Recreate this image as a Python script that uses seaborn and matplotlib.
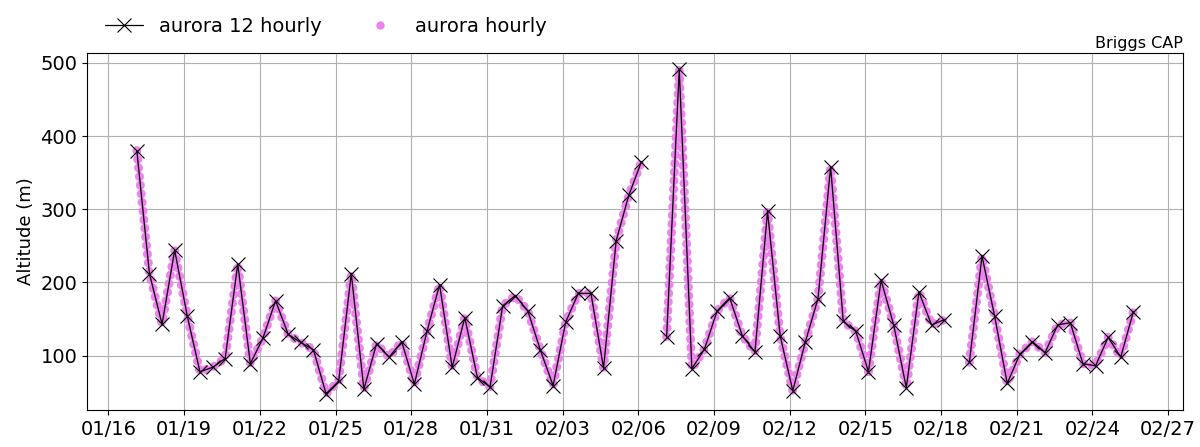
import numpy as np
import pandas as pd
import seaborn as sns
import matplotlib.pyplot as plt
import matplotlib.dates as mdates
from matplotlib.lines import Line2D

# aurora altitude, every 12 h starting 01/17 03:00 (nan = missing)
start_time = '2023-01-17 03:00'
alt_12h = [380, 212, 143, 244, 154, 78, 84, 96, 225, 89,
           124, 175, 129, 118, 108, 48, 65, 212, 54, 116,
           98, 119, 61, 133, 197, 84, 152, 70, 57, 168,
           182, 161, 107, 59, 146, 185, 185, 83, 257, 319,
           365, np.nan, 126, 491, 82, 109, 161, 179, 127, 105,
           297, 127, 52, 119, 178, 358, 147, 133, 78, 203,
           142, 56, 187, 142, 149, np.nan, 91, 236, 154, 62,
           102, 119, 104, 142, 145, 89, 86, 125, 98, 160]
tick_dates = pd.date_range('2023-01-16', '2023-02-27', freq='3D')
site = 'Briggs CAP'

times = pd.date_range(start_time, periods=len(alt_12h), freq='12h')
df = pd.DataFrame({'time': times, 'alt': alt_12h})
df['seg'] = df['alt'].isna().cumsum()
df = df.dropna()

sns.set_style('ticks', {'text.color': 'black', 'axes.labelcolor': 'black',
                        'xtick.color': 'black', 'ytick.color': 'black',
                        'axes.edgecolor': 'black'})
fig, ax = plt.subplots(figsize=(12, 4.47), dpi=100)
fig.subplots_adjust(left=0.0725, right=0.986, top=0.881, bottom=0.083)

# hourly dots drawn as a thick dotted trace
sns.lineplot(data=df, x='time', y='alt', units='seg', estimator=None,
             color='violet', linewidth=6.5, linestyle=(0, (0.01, 0.95)),
             dash_capstyle='round', legend=False, ax=ax)
sns.lineplot(data=df, x='time', y='alt', units='seg', estimator=None,
             color='black', linewidth=0.9, marker='x', markersize=10,
             markeredgecolor='black', markeredgewidth=0.8,
             legend=False, ax=ax)

ax.set_xticks(tick_dates)
ax.xaxis.set_major_formatter(mdates.DateFormatter('%m/%d'))
ax.tick_params(labelsize=14, colors='black')
ax.grid(True, color='#b0b0b0', linewidth=0.8)
ax.set_xlabel('')
ax.set_ylabel('Altitude (m)', fontsize=13, color='black')
ax.set_title(site, loc='right', fontsize=11.5, pad=4, color='black')

handles = [Line2D([], [], color='black', linewidth=0.9, marker='x', markersize=10,
                  markeredgewidth=0.8),
           Line2D([], [], color='violet', linestyle='', marker='o', markersize=5)]
leg = ax.legend(handles, ['aurora 12 hourly', 'aurora hourly'], ncol=2, frameon=False,
                loc='center left', bbox_to_anchor=(0.0, 1.075), fontsize=14,
                columnspacing=2.0)
for t in leg.get_texts():
    t.set_color('black')

plt.savefig('out.png', dpi=100)
